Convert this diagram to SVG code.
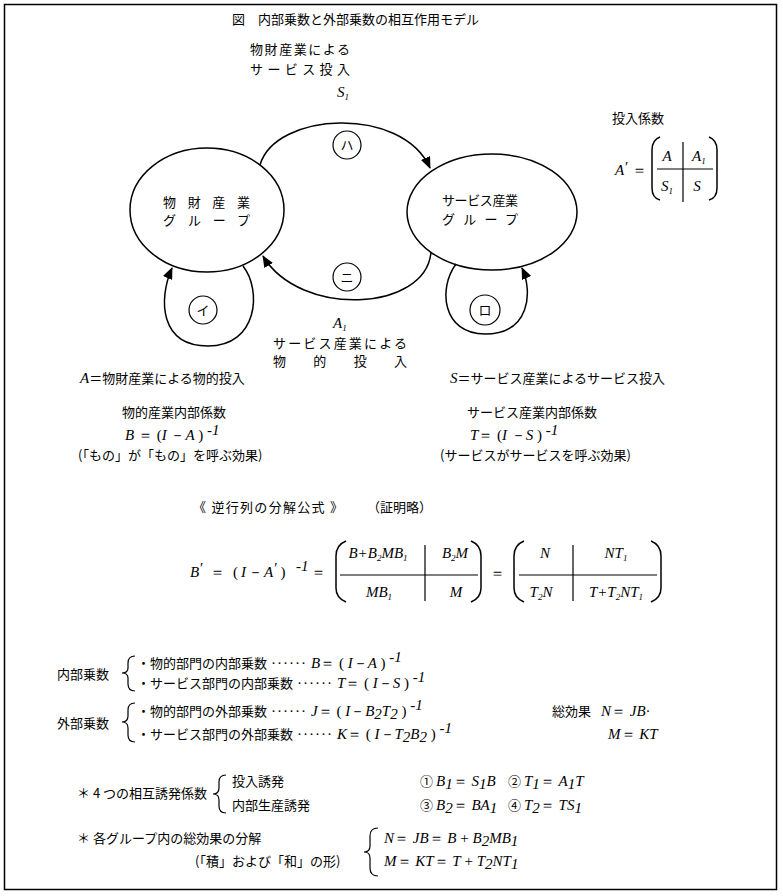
<svg xmlns="http://www.w3.org/2000/svg" width="783" height="896" viewBox="0 0 783 896">
<defs>
<style>
.j{font-family:"Noto Sans CJK JP","Noto Sans CJK SC",sans-serif;font-size:13px;fill:#000}
.m{font-family:"Liberation Serif",serif;font-style:italic;font-size:15px;fill:#000}
.r{font-family:"Liberation Serif",serif;font-size:15px;fill:#000}
.ln{fill:none;stroke:#000;stroke-width:1.5}
.th{fill:none;stroke:#000;stroke-width:1.2}
.c{text-anchor:middle}
</style>
<marker id="ah" markerWidth="12" markerHeight="10" refX="11" refY="5" orient="auto" markerUnits="userSpaceOnUse"><path d="M0,0 L12,5 L0,10 z" fill="#000"/></marker>
</defs>
<rect x="0" y="0" width="783" height="896" fill="#fff"/>
<rect x="4.5" y="4.5" width="772" height="885" class="ln"/>

<text class="j" x="232" y="24" font-size="14.5">図　内部乗数と外部乗数の相互作用モデル</text>

<!-- top label -->
<text class="j" x="250" y="54" textLength="100" lengthAdjust="spacing">物財産業による</text>
<text class="j" x="250" y="74" textLength="100" lengthAdjust="spacing">サービス投入</text>
<text class="m" x="337" y="97">S<tspan font-size="9" dy="3">1</tspan></text>

<!-- A' matrix -->
<g id="matrix-a">
<text class="j" x="612" y="123">投入係数</text>
<text class="m" x="615" y="175">A</text>
<text class="r" x="625" y="172" font-size="13">′</text>
<text class="r" x="632" y="175">＝</text>
<path class="ln" d="M660,137 Q652,140 652,150 L652,188 Q652,198 660,200"/>
<path class="ln" d="M709,137 Q717,140 717,150 L717,188 Q717,198 709,200"/>
<line class="th" x1="657" y1="169" x2="713" y2="169"/>
<line class="th" x1="683" y1="142" x2="683" y2="202"/>
<text class="m c" x="667" y="161">A</text>
<text class="m" x="692" y="161">A<tspan font-size="9" dy="3">1</tspan></text>
<text class="m" x="661" y="191">S<tspan font-size="9" dy="3">1</tspan></text>
<text class="m c" x="697" y="191">S</text>
</g>

<!-- nodes -->
<g id="node-goods">
<ellipse class="ln" cx="207" cy="210" rx="77" ry="62"/>
<text class="j" x="163" y="207" textLength="87" lengthAdjust="spacing">物財産業</text>
<text class="j" x="163" y="225" textLength="87" lengthAdjust="spacing">グループ</text>
</g>
<g id="node-service">
<ellipse class="ln" cx="492" cy="212" rx="85" ry="58"/>
<text class="j" x="442" y="205" textLength="76" lengthAdjust="spacing">サービス産業</text>
<text class="j" x="442" y="224" textLength="76" lengthAdjust="spacing">グループ</text>
</g>
<g id="mark-ha"><circle class="th" cx="347" cy="145" r="14"/><text class="j c" x="347" y="150">ハ</text></g>
<g id="mark-ni"><circle class="th" cx="347" cy="277" r="14"/><text class="j c" x="347" y="282">ニ</text></g>
<g id="mark-i"><circle class="th" cx="203" cy="310" r="14"/><text class="j c" x="203" y="315">イ</text></g>
<g id="mark-ro"><circle class="th" cx="485" cy="310" r="15"/><text class="j c" x="485" y="315">ロ</text></g>

<!-- connectors -->
<g id="connectors">
<path class="ln" d="M260,165 C275,112 402,105 430,168" marker-end="url(#ah)"/>
<path class="ln" d="M431,252 C426,312 300,318 263,256" marker-end="url(#ah)"/>
<path class="ln" d="M243,266 C262,290 258,346 208,346 C160,346 158,300 172,268" marker-end="url(#ah)"/>
<path class="ln" d="M456,264 C438,288 442,334 485,334 C530,334 533,292 522,268" marker-end="url(#ah)"/>
</g>

<!-- bottom label -->
<text class="m" x="333" y="328">A<tspan font-size="9" dy="3">1</tspan></text>
<text class="j" x="273" y="348" font-size="12" textLength="134" lengthAdjust="spacing">サービス産業による</text>
<text class="j" x="273" y="366" font-size="12" textLength="134" lengthAdjust="spacing">物的投入</text>

<text x="80" y="383"><tspan class="m">A</tspan><tspan class="j" font-size="14">＝物財産業による物的投入</tspan></text>
<text x="450" y="383"><tspan class="m">S</tspan><tspan class="j" font-size="14">＝サービス産業によるサービス投入</tspan></text>

<text class="j" x="122" y="417" font-size="12">物的産業内部係数</text>
<text x="125" y="440"><tspan class="m" font-size="14">B</tspan><tspan class="r" font-size="14"> ＝ (</tspan><tspan class="m" font-size="14">I</tspan><tspan class="r" font-size="14"> －</tspan><tspan class="m" font-size="14">A</tspan><tspan class="r" font-size="14"> )</tspan><tspan class="m" font-size="9" dy="-5"> -1</tspan></text>
<text class="j" x="78" y="460" font-size="12">(「もの」が「もの」を呼ぶ効果)</text>

<text class="j" x="467" y="417" font-size="12">サービス産業内部係数</text>
<text x="470" y="440"><tspan class="m" font-size="14">T</tspan><tspan class="r" font-size="14">＝ (</tspan><tspan class="m" font-size="14">I</tspan><tspan class="r" font-size="14"> －</tspan><tspan class="m" font-size="14">S</tspan><tspan class="r" font-size="14"> )</tspan><tspan class="m" font-size="9" dy="-5"> -1</tspan></text>
<text class="j" x="440" y="460" font-size="12">(サービスがサービスを呼ぶ効果)</text>

<text class="j" x="193" y="512" font-size="14" textLength="150" lengthAdjust="spacing">《 逆行列の分解公式 》</text>
<text class="j" x="367" y="512" font-size="13">（証明略）</text>

<!-- formula -->
<g id="formula-lhs">
<text class="m" x="190" y="577">B</text>
<text class="r" x="200" y="573" font-size="13">′</text>
<text class="r" x="210" y="577">＝</text>
<text x="233" y="577"><tspan class="r">(</tspan><tspan class="m" dx="3">I</tspan><tspan class="r" dx="2">－</tspan><tspan class="m" dx="1">A</tspan><tspan class="r" font-size="13" dy="-4" dx="1">′</tspan><tspan class="r" dy="4" dx="3">)</tspan></text>
<text class="m" x="296" y="571" font-size="10">-1</text>
<text class="r" x="311" y="577">＝</text>
</g>
<g id="matrix-1">
<path class="ln" d="M346,541 Q336,545 336,556 L336,588 Q336,598 346,602"/>
<path class="ln" d="M471,541 Q481,545 481,556 L481,588 Q481,598 471,602"/>
<line class="th" x1="340" y1="575" x2="478" y2="575"/>
<line class="th" x1="425" y1="545" x2="425" y2="601"/>
<text class="m c" x="378" y="558">B+B<tspan font-size="9" dy="3">2</tspan><tspan dy="-3">MB</tspan><tspan font-size="9" dy="3">1</tspan></text>
<text class="m c" x="455" y="558">B<tspan font-size="9" dy="3">2</tspan><tspan dy="-3">M</tspan></text>
<text class="m c" x="379" y="597">MB<tspan font-size="9" dy="3">1</tspan></text>
<text class="m c" x="456" y="597">M</text>
</g>
<text class="r" x="490" y="578">＝</text>
<g id="matrix-2">
<path class="ln" d="M524,541 Q514,545 514,556 L514,588 Q514,598 524,602"/>
<path class="ln" d="M651,541 Q661,545 661,556 L661,588 Q661,598 651,602"/>
<line class="th" x1="519" y1="575" x2="657" y2="575"/>
<line class="th" x1="573" y1="545" x2="573" y2="601"/>
<text class="m c" x="545" y="558">N</text>
<text class="m c" x="616" y="558">NT<tspan font-size="9" dy="3">1</tspan></text>
<text class="m c" x="541" y="597">T<tspan font-size="9" dy="3">2</tspan><tspan dy="-3">N</tspan></text>
<text class="m c" x="616" y="597">T+T<tspan font-size="9" dy="3">2</tspan><tspan dy="-3">NT</tspan><tspan font-size="9" dy="3">1</tspan></text>
</g>

<!-- internal multipliers -->
<text class="j" x="57" y="679">内部乗数</text>
<path class="th" d="M135,656 Q128,656 128,663 L128,668 Q128,673 122,673 Q128,673 128,678 L128,684 Q128,691 135,691"/>
<text x="137" y="668"><tspan class="j">・物的部門の内部乗数</tspan><tspan class="r" dx="4" letter-spacing="1">······</tspan><tspan class="m" dx="4">B</tspan><tspan class="r">＝ ( </tspan><tspan class="m">I</tspan><tspan class="r">－</tspan><tspan class="m">A</tspan><tspan class="r"> )</tspan><tspan class="m" font-size="9" dy="-6"> -1</tspan></text>
<text x="137" y="688"><tspan class="j">・サービス部門の内部乗数</tspan><tspan class="r" dx="4" letter-spacing="1">······</tspan><tspan class="m" dx="4">T</tspan><tspan class="r">＝ ( </tspan><tspan class="m">I</tspan><tspan class="r">－</tspan><tspan class="m">S</tspan><tspan class="r"> )</tspan><tspan class="m" font-size="9" dy="-6"> -1</tspan></text>

<!-- external multipliers -->
<text class="j" x="57" y="728">外部乗数</text>
<path class="th" d="M135,703 Q128,703 128,710 L128,716 Q128,722 122,722 Q128,722 128,728 L128,735 Q128,742 135,742"/>
<text x="137" y="716"><tspan class="j">・物的部門の外部乗数</tspan><tspan class="r" dx="4" letter-spacing="1">······</tspan><tspan class="m" dx="4">J</tspan><tspan class="r">＝ ( </tspan><tspan class="m">I</tspan><tspan class="r">－</tspan><tspan class="m">B</tspan><tspan class="m" font-size="9" dy="3">2</tspan><tspan class="m" dy="-3">T</tspan><tspan class="m" font-size="9" dy="3">2</tspan><tspan class="r" dy="-3"> )</tspan><tspan class="m" font-size="9" dy="-6"> -1</tspan></text>
<text x="137" y="739"><tspan class="j">・サービス部門の外部乗数</tspan><tspan class="r" dx="4" letter-spacing="1">······</tspan><tspan class="m" dx="4">K</tspan><tspan class="r">＝ ( </tspan><tspan class="m">I</tspan><tspan class="r">－</tspan><tspan class="m">T</tspan><tspan class="m" font-size="9" dy="3">2</tspan><tspan class="m" dy="-3">B</tspan><tspan class="m" font-size="9" dy="3">2</tspan><tspan class="r" dy="-3"> )</tspan><tspan class="m" font-size="9" dy="-6"> -1</tspan></text>
<text class="j" x="552" y="716">総効果</text>
<text x="601" y="716"><tspan class="m">N</tspan><tspan class="r">＝ </tspan><tspan class="m">JB</tspan><tspan class="r">·</tspan></text>
<text x="608" y="739"><tspan class="m">M</tspan><tspan class="r">＝ </tspan><tspan class="m">KT</tspan></text>

<!-- four coefficients -->
<text class="j" x="77" y="798">＊ 4 つの相互誘発係数</text>
<path class="th" d="M226,775 Q219,775 219,782 L219,788 Q219,794 213,794 Q219,794 219,800 L219,806 Q219,813 226,813"/>
<text class="j" x="232" y="786">投入誘発</text>
<text class="j" x="232" y="810">内部生産誘発</text>
<text x="420" y="786"><tspan class="j">①</tspan><tspan class="m" dx="3">B</tspan><tspan class="m" font-size="9" dy="3">1</tspan><tspan class="r" dy="-3">＝ </tspan><tspan class="m">S</tspan><tspan class="m" font-size="9" dy="3">1</tspan><tspan class="m" dy="-3">B</tspan></text>
<text x="508" y="786"><tspan class="j">②</tspan><tspan class="m" dx="3">T</tspan><tspan class="m" font-size="9" dy="3">1</tspan><tspan class="r" dy="-3">＝ </tspan><tspan class="m">A</tspan><tspan class="m" font-size="9" dy="3">1</tspan><tspan class="m" dy="-3">T</tspan></text>
<text x="420" y="810"><tspan class="j">③</tspan><tspan class="m" dx="3">B</tspan><tspan class="m" font-size="9" dy="3">2</tspan><tspan class="r" dy="-3">＝ </tspan><tspan class="m">BA</tspan><tspan class="m" font-size="9" dy="3">1</tspan></text>
<text x="508" y="810"><tspan class="j">④</tspan><tspan class="m" dx="3">T</tspan><tspan class="m" font-size="9" dy="3">2</tspan><tspan class="r" dy="-3">＝ </tspan><tspan class="m">TS</tspan><tspan class="m" font-size="9" dy="3">1</tspan></text>

<!-- decomposition -->
<text class="j" x="77" y="843">＊ 各グループ内の総効果の分解</text>
<text class="j" x="195" y="866">(「積」および「和」の形)</text>
<path class="th" d="M378,828 Q370,828 370,836 L370,846 Q370,852 364,852 Q370,852 370,858 L370,868 Q370,876 378,876"/>
<text x="384" y="843"><tspan class="m">N</tspan><tspan class="r">＝ </tspan><tspan class="m">JB</tspan><tspan class="r">＝ </tspan><tspan class="m">B</tspan><tspan class="r"> + </tspan><tspan class="m">B</tspan><tspan class="m" font-size="9" dy="3">2</tspan><tspan class="m" dy="-3">MB</tspan><tspan class="m" font-size="9" dy="3">1</tspan></text>
<text x="384" y="866"><tspan class="m">M</tspan><tspan class="r">＝ </tspan><tspan class="m">KT</tspan><tspan class="r">＝ </tspan><tspan class="m">T</tspan><tspan class="r"> + </tspan><tspan class="m">T</tspan><tspan class="m" font-size="9" dy="3">2</tspan><tspan class="m" dy="-3">NT</tspan><tspan class="m" font-size="9" dy="3">1</tspan></text>
</svg>
